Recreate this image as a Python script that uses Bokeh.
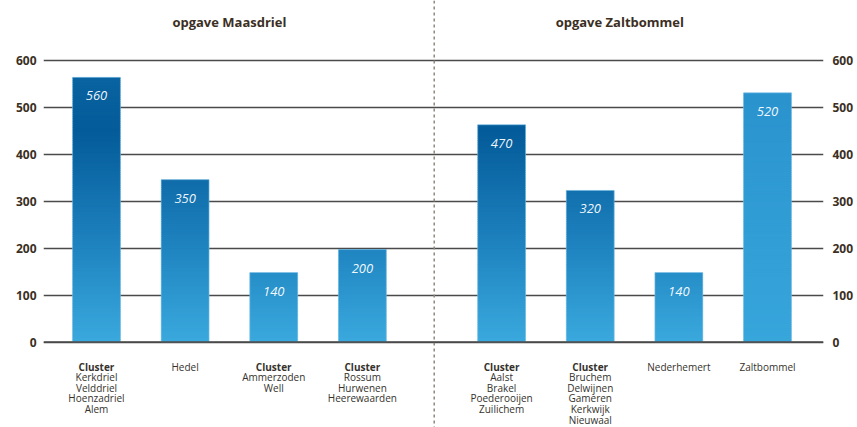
import numpy as np
from bokeh.plotting import figure
from bokeh.models import Range1d, FixedTicker, LinearAxis, Span, ColumnDataSource
from bokeh.core.properties import value
from bokeh.embed import file_html
from bokeh.resources import INLINE

# ---------------- data ----------------
group_titles = ["opgave Maasdriel", "opgave Zaltbommel"]
bar_group = [0, 0, 0, 0, 1, 1, 1, 1]
category_lines = [
    ["Cluster", "Kerkdriel", "Velddriel", "Hoenzadriel", "Alem"],
    ["Hedel"],
    ["Cluster", "Ammerzoden", "Well"],
    ["Cluster", "Rossum", "Hurwenen", "Heerewaarden"],
    ["Cluster", "Aalst", "Brakel", "Poederooijen", "Zuilichem"],
    ["Cluster", "Bruchem", "Delwijnen", "Gameren", "Kerkwijk", "Nieuwaal"],
    ["Nederhemert"],
    ["Zaltbommel"],
]
bar_values = [564, 346, 148, 197, 463, 323, 148, 531]
bar_labels = ["560", "350", "140", "200", "470", "320", "140", "520"]
y_ticks = [0, 100, 200, 300, 400, 500, 600]

# ---------------- styles ----------------
bar_style = ["deep"] * 7 + ["light"]
GRADIENTS = {
    "deep": [(0, "#3aa9dd"), (200, "#1f84c0"), (450, "#045b99"), (600, "#0b66a3")],
    "light": [(0, "#37a6db"), (600, "#2890cc")],
}
TEXT_DARK = "#3b2f24"
LABEL_COL = "#35322c"
GRID_COL = "#4a4a4a"

GAP = 0.571
BAR_W = 0.54


def hex2rgb(h):
    h = h.lstrip("#")
    return np.array([int(h[i:i + 2], 16) for i in (0, 2, 4)], dtype=float)


def grad_color(stops, v):
    for (v0, c0), (v1, c1) in zip(stops[:-1], stops[1:]):
        if v <= v1 or (v1 == stops[-1][0]):
            t = min(max((v - v0) / (v1 - v0), 0.0), 1.0)
            c = hex2rgb(c0) * (1 - t) + hex2rgb(c1) * t
            return "#%02x%02x%02x" % tuple(int(round(x)) for x in c)
    return stops[-1][1]


xs = [i + GAP * g for i, g in enumerate(bar_group)]

p = figure(width=857, height=427, output_backend="svg", toolbar_location=None,
           x_range=Range1d(-0.598, 8.203), y_range=Range1d(-182.2, 727.8),
           x_axis_location=None, y_axis_location="left",
           min_border_left=43, min_border_right=34, min_border_top=0, min_border_bottom=0)
p.outline_line_color = None
p.background_fill_color = "white"
p.border_fill_color = "white"
p.xgrid.visible = False


def style_axis(ax, standoff):
    ax.ticker = FixedTicker(ticks=y_ticks)
    ax.axis_line_color = None
    ax.major_tick_line_color = None
    ax.minor_tick_line_color = None
    ax.major_tick_in = 0
    ax.major_tick_out = 0
    ax.major_label_standoff = standoff
    ax.major_label_text_font = "Open Sans"
    ax.major_label_text_font_style = "bold"
    ax.major_label_text_font_size = "12px"
    ax.major_label_text_color = TEXT_DARK


style_axis(p.yaxis[0], 7)
right_axis = LinearAxis()
style_axis(right_axis, 9)
p.add_layout(right_axis, "right")

p.ygrid.ticker = FixedTicker(ticks=y_ticks)
p.ygrid.grid_line_color = GRID_COL
p.ygrid.grid_line_width = 1.5

# gradient bars as stacked slices
step = 4.0
L, R, B, T, C = [], [], [], [], []
for x, v, st in zip(xs, bar_values, bar_style):
    bottoms = np.arange(0, v, step)
    for b in bottoms:
        L.append(x - BAR_W / 2)
        R.append(x + BAR_W / 2)
        B.append(b)
        T.append(min(b + step * 1.6, v))
        C.append(grad_color(GRADIENTS[st], b + step / 2))
p.quad(source=ColumnDataSource(dict(left=L, right=R, bottom=B, top=T, color=C)),
       left="left", right="right", bottom="bottom", top="top",
       fill_color="color", line_color=None)

# thin light outline of bars
p.quad(left=[x - BAR_W / 2 for x in xs], right=[x + BAR_W / 2 for x in xs],
       bottom=[0] * len(xs), top=bar_values, fill_color=None,
       line_color="#7cc0e6", line_alpha=0.6, line_width=1)

# value labels inside bars
p.text(x=xs, y=bar_values, text=bar_labels, text_font=value("Open Sans"),
       text_font_style="italic", text_font_size="13px", text_color="white",
       text_alpha=0.95, text_align="center", text_baseline="middle", y_offset=18.5)

# category labels under bars
bx, bt, bo, nx, nt, no = [], [], [], [], [], []
for x, lines in zip(xs, category_lines):
    for i, line in enumerate(lines):
        off = 24.5 + 10.6 * i
        if i == 0 and line == "Cluster":
            bx.append(x); bt.append(line); bo.append(off)
        else:
            nx.append(x); nt.append(line); no.append(off)
p.text(x=bx, y=[0] * len(bx), text=bt, y_offset=bo, text_font=value("Open Sans"),
       text_font_style="bold", text_font_size="10px", text_color=LABEL_COL,
       text_align="center", text_baseline="middle")
p.text(x=nx, y=[0] * len(nx), text=nt, y_offset=no, text_font=value("Open Sans"),
       text_font_size="10px", text_color=LABEL_COL,
       text_align="center", text_baseline="middle")

# group titles
title_shift = [0.0, -0.166]
gx = []
for g in range(len(group_titles)):
    members = [x for x, gg in zip(xs, bar_group) if gg == g]
    gx.append(sum(members) / len(members) + title_shift[g])
p.text(x=gx, y=[max(y_ticks)] * len(gx), text=group_titles, y_offset=-38.3,
       text_font=value("Open Sans"), text_font_style="bold", text_font_size="13px",
       text_color=TEXT_DARK, text_align="center", text_baseline="middle")

# separator and zero line
sep_x = (xs[3] + xs[4]) / 2 + 0.025
p.add_layout(Span(location=sep_x, dimension="height", line_color="#8f8780",
                  line_dash="3 3", line_width=1.5))
p.add_layout(Span(location=0, dimension="width", line_color=GRID_COL, line_width=1.5))

open("out.html", "w").write(file_html(p, INLINE))
